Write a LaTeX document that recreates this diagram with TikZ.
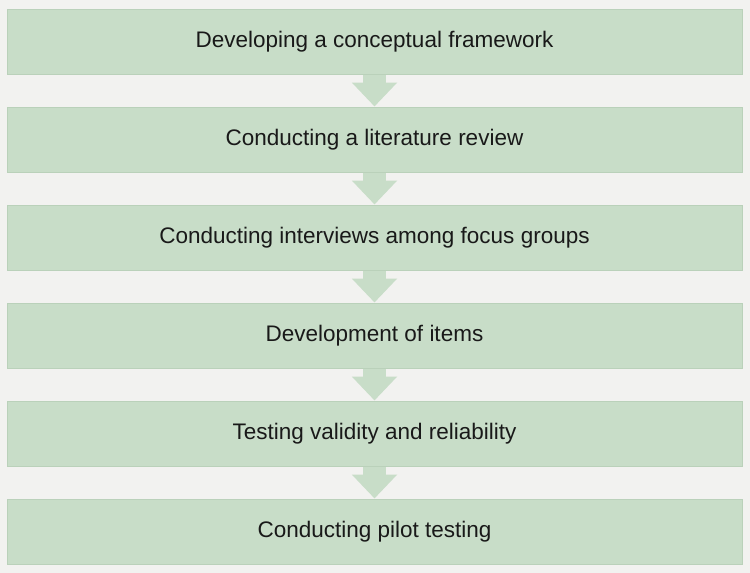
\documentclass[tikz,border=0pt]{standalone}
\usepackage{fontspec}
\setmainfont{Liberation Sans}
\usepackage{tikz}
\usetikzlibrary{arrows.meta, positioning}
\definecolor{stepgreen}{RGB}{200,221,200}
\definecolor{stepedge}{RGB}{186,209,186}
\definecolor{pagegray}{RGB}{242,242,240}
\tikzset{
  stage/.style={draw=stepedge, line width=1pt, fill=stepgreen, minimum width=735pt,
                minimum height=65pt, inner sep=0pt, align=center,
                font=\fontsize{22.5}{26}\selectfont, text=black!90},
  flow/.style={draw=stepgreen, line width=23pt, -{Triangle[width=44pt, length=24pt]}},
}

\begin{document}
\begin{tikzpicture}[x=1pt, y=1pt, node distance=32pt]
\fill[pagegray] (0,0) rectangle (750,-573);
\useasboundingbox (0,0) rectangle (750,-573);
\node[stage] (s1) at (374.5,-41.5) {Developing a conceptual framework};
\node[stage, below=of s1] (s2) {Conducting a literature review};
\node[stage, below=of s2] (s3) {Conducting interviews among focus groups};
\node[stage, below=of s3] (s4) {Development of items};
\node[stage, below=of s4] (s5) {Testing validity and reliability};
\node[stage, below=of s5] (s6) {Conducting pilot testing};
% arrows between the stages
\foreach \a/\b in {s1/s2, s2/s3, s3/s4, s4/s5, s5/s6}
  \draw[flow] (\a.south) -- (\b.north);
\end{tikzpicture}
\end{document}
